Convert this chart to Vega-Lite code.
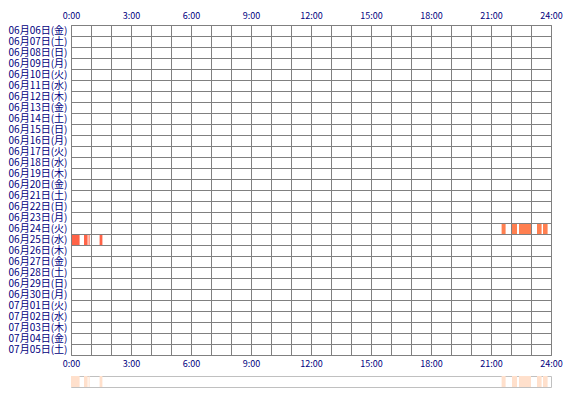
{
  "$schema": "https://vega.github.io/schema/vega-lite/v6.json",
  "padding": {"left": 4, "top": 10, "right": 16, "bottom": 10},
  "background": "white",
  "spacing": 5,
  "config": {
    "font": "Noto Sans CJK JP",
    "view": {"stroke": "#808080", "strokeWidth": 1},
    "axis": {"labelColor": "#000080", "domain": false, "ticks": false, "title": null, "gridColor": "#808080", "gridOpacity": 1, "gridWidth": 1}
  },
  "datasets": {
    "spans": [
      {"day": "06月25日(水)", "start": 0.0, "end": 0.43, "level": "a"},
      {"day": "06月25日(水)", "start": 0.65, "end": 0.83, "level": "a"},
      {"day": "06月25日(水)", "start": 0.88, "end": 0.93, "level": "a"},
      {"day": "06月25日(水)", "start": 1.43, "end": 1.57, "level": "a"},
      {"day": "06月24日(火)", "start": 21.53, "end": 21.73, "level": "b"},
      {"day": "06月24日(火)", "start": 22.05, "end": 22.3, "level": "b"},
      {"day": "06月24日(火)", "start": 22.4, "end": 23.0, "level": "b"},
      {"day": "06月24日(火)", "start": 23.3, "end": 23.53, "level": "b"},
      {"day": "06月24日(火)", "start": 23.6, "end": 23.83, "level": "b"}
    ]
  },
  "vconcat": [
    {
      "width": 480,
      "height": 330,
      "layer": [
        {
          "data": {"name": "spans"},
          "mark": {"type": "rect"},
          "encoding": {
            "x": {
              "field": "start", "type": "quantitative",
              "scale": {"domain": [0, 24], "nice": false, "zero": false},
              "axis": {
                "orient": "top",
                "values": [0,1,2,3,4,5,6,7,8,9,10,11,12,13,14,15,16,17,18,19,20,21,22,23,24],
                "labelExpr": "datum.value % 3 == 0 ? datum.value + ':00' : ''",
                "grid": true, "labelFontSize": 9, "labelPadding": 5,
                "labelFlush": false, "minExtent": 14, "maxExtent": 14, "zindex": 1
              }
            },
            "x2": {"field": "end"},
            "y": {
              "field": "day", "type": "ordinal",
              "scale": {
                "domain": ["06月06日(金)","06月07日(土)","06月08日(日)","06月09日(月)","06月10日(火)","06月11日(水)","06月12日(木)","06月13日(金)","06月14日(土)","06月15日(日)","06月16日(月)","06月17日(火)","06月18日(水)","06月19日(木)","06月20日(金)","06月21日(土)","06月22日(日)","06月23日(月)","06月24日(火)","06月25日(水)","06月26日(木)","06月27日(金)","06月28日(土)","06月29日(日)","06月30日(月)","07月01日(火)","07月02日(水)","07月03日(木)","07月04日(金)","07月05日(土)"],
                "paddingInner": 0, "paddingOuter": 0
              },
              "axis": {
                "grid": true, "tickBand": "extent", "labelFontSize": 10,
                "labelPadding": 4, "minExtent": 66, "maxExtent": 66, "zindex": 1
              }
            },
            "color": {
              "field": "level", "type": "nominal",
              "scale": {"domain": ["a", "b"], "range": ["#ff6347", "#ff7f50"]},
              "legend": null
            }
          }
        },
        {
          "data": {"name": "spans"},
          "mark": {"type": "rule", "strokeOpacity": 0},
          "encoding": {
            "x": {
              "field": "start", "type": "quantitative",
              "scale": {"domain": [0, 24], "nice": false, "zero": false},
              "axis": {
                "orient": "bottom",
                "values": [0, 3, 6, 9, 12, 15, 18, 21, 24],
                "labelExpr": "datum.value + ':00'",
                "grid": false, "labelFontSize": 9, "labelPadding": 4,
                "labelFlush": false, "minExtent": 14, "maxExtent": 14
              }
            }
          }
        }
      ]
    },
    {
      "width": 480,
      "height": 11,
      "view": {"stroke": "#c0c0c0"},
      "data": {"name": "spans"},
      "mark": {"type": "rect", "color": "#ffe0cc"},
      "encoding": {
        "x": {
          "field": "start", "type": "quantitative",
          "scale": {"domain": [0, 24], "nice": false, "zero": false},
          "axis": null
        },
        "x2": {"field": "end"}
      }
    }
  ]
}
